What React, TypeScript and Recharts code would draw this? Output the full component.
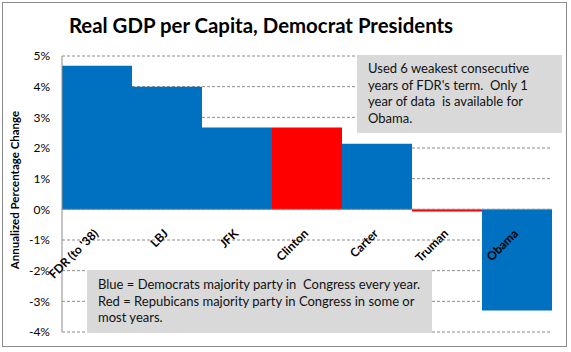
import { BarChart, Bar, XAxis, YAxis, CartesianGrid, ReferenceLine, Cell, LabelList } from "recharts";

const presidents = ["FDR (to '38)", "LBJ", "JFK", "Clinton", "Carter", "Truman", "Obama"];
const growth = [4.68, 4.0, 2.67, 2.67, 2.14, -0.07, -3.3];
const congress = ["D", "D", "D", "R", "D", "R", "D"];
const yTicks = [-4, -3, -2, -1, 0, 1, 2, 3, 4, 5];

const data = presidents.map((name, i) => ({ name, value: growth[i], party: congress[i] }));

const FONT = "Lato, 'Open Sans', sans-serif";

const NameLabel = (props: any) => {
  const { x, y, width, height, value, index } = props;
  const top = Math.min(y, y + height);
  const bottom = Math.max(y, y + height);
  const zeroY = growth[index] >= 0 ? bottom : top;
  const ax = x + width / 2 + 2;
  const ay = zeroY + 25;
  return (
    <text
      x={ax}
      y={ay}
      transform={`rotate(-45 ${ax} ${ay})`}
      textAnchor="end"
      fontSize={12}
      fontWeight="bold"
      fontFamily={FONT}
      fill="#000"
    >
      {value}
    </text>
  );
};

const AxisTitle = () => (
  <text
    x={14}
    y={190}
    transform="rotate(-90 14 190)"
    textAnchor="middle"
    dominantBaseline="central"
    fontSize={11.5}
    fontWeight="bold"
    fontFamily={FONT}
    fill="#000"
  >
    Annualized Percentage Change
  </text>
);

const boxStyle: React.CSSProperties = {
  position: "absolute",
  background: "#d9d9d9",
  fontFamily: FONT,
  fontSize: 13,
  lineHeight: "16.5px",
  color: "#111",
  boxSizing: "border-box",
};

export default function App() {
  return (
    <div
      style={{
        position: "absolute",
        left: 0,
        top: 0,
        width: 571,
        height: 352,
        background: "#fff",
        fontFamily: FONT,
      }}
    >
      <div
        style={{
          position: "absolute",
          left: 2,
          top: 2,
          width: 565,
          height: 345,
          border: "1px solid #8c8c8c",
          boxSizing: "border-box",
        }}
      />
      <div
        style={{
          position: "absolute",
          left: 0,
          top: 13,
          width: 522,
          textAlign: "center",
          fontSize: 20.4,
          fontWeight: "bold",
          color: "#000",
          whiteSpace: "nowrap",
        }}
      >
        Real GDP per Capita, Democrat Presidents
      </div>
      <div style={{ position: "absolute", left: 0, top: 0 }}>
        <BarChart
          width={571}
          height={352}
          data={data}
          margin={{ top: 56, right: 19, bottom: 20, left: 0 }}
          barCategoryGap={0}
        >
          <CartesianGrid vertical={false} strokeDasharray="3 2" stroke="#8c8c8c" />
          <XAxis dataKey="name" hide />
          <YAxis
            width={62}
            domain={[-4, 5]}
            ticks={yTicks}
            interval={0}
            tickFormatter={(v: number) => `${v}%`}
            tickLine={false}
            tickSize={0}
            tickMargin={12}
            axisLine={{ stroke: "#8c8c8c" }}
            tick={{ fontSize: 12, fill: "#000", fontFamily: FONT }}
            label={<AxisTitle />}
          />
          <Bar dataKey="value" isAnimationActive={false}>
            {data.map((d, i) => (
              <Cell key={i} fill={d.party === "R" ? "#ff0000" : "#0070c0"} />
            ))}
            <LabelList dataKey="name" content={NameLabel} />
          </Bar>
          <ReferenceLine y={0} stroke="#8c8c8c" />
        </BarChart>
      </div>
      <div style={{ ...boxStyle, left: 357, top: 55, width: 205, height: 78, padding: "5px 8px 0 11px" }}>
        Used 6 weakest consecutive
        <br />
        years of FDR's term.&nbsp; Only 1
        <br />
        year of data&nbsp; is available for
        <br />
        Obama.
      </div>
      <div style={{ ...boxStyle, left: 87, top: 270, width: 345, height: 63, padding: "6px 8px 0 11px" }}>
        Blue = Democrats majority party in&nbsp; Congress every year.
        <br />
        Red = Repubicans majority party in Congress in some or
        <br />
        most years.
      </div>
    </div>
  );
}
